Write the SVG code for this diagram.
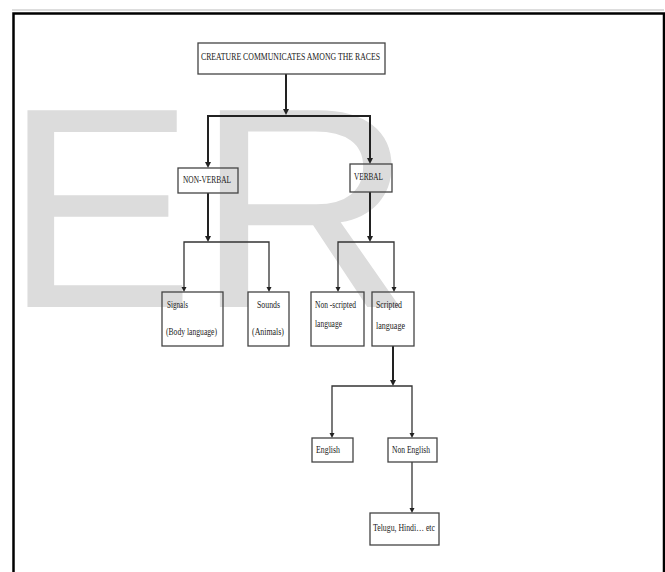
<svg xmlns="http://www.w3.org/2000/svg" width="665" height="572" viewBox="0 0 665 572">
<style>
.box{fill:none;stroke:#444;stroke-width:1.3}
.t{font-family:"Liberation Serif","Times New Roman",serif;font-size:11px;fill:#222}
.c{fill:none;stroke:#333;stroke-width:1.3}
.cb{fill:none;stroke:#222;stroke-width:2}
.wm{font-family:"Liberation Sans",Arial,sans-serif;font-size:286px;fill:#dcdcdc}
</style>
<rect width="665" height="572" fill="#fff"/>
<text class="wm" x="4" y="307">E</text>
<text class="wm" transform="translate(195,307) scale(1.06,1)">R</text>
<g id="frame">
<line x1="12" y1="10" x2="664" y2="10" stroke="#bbb" stroke-width="1"/>
<path d="M13.5,572 V13.5 H664 V572" fill="none" stroke="#000" stroke-width="2.5"/>
</g>
<g id="connectors">
<path class="cb" d="M286,74 V112"/>
<path d="M283,109 L289,109 L286,115 Z" fill="#222"/>
<path class="cb" d="M208,166 V116 H370 V162"/>
<path d="M205,162 L211,162 L208,168 Z" fill="#222"/>
<path d="M367,158 L373,158 L370,164 Z" fill="#222"/>
<path class="cb" d="M208,193 V240"/>
<path d="M205,236 L211,236 L208,242 Z" fill="#222"/>
<path class="c" d="M184,290 V242 H269 V290"/>
<path d="M181.5,287 L186.5,287 L184,292 Z" fill="#222"/>
<path d="M266.5,287 L271.5,287 L269,292 Z" fill="#222"/>
<path class="cb" d="M370,192 V240"/>
<path d="M367,236 L373,236 L370,242 Z" fill="#222"/>
<path class="c" d="M338,290 V242 H394 V290"/>
<path d="M335.5,287 L340.5,287 L338,292 Z" fill="#222"/>
<path d="M391.5,287 L396.5,287 L394,292 Z" fill="#222"/>
<path class="cb" d="M393,346 V384"/>
<path d="M390,380 L396,380 L393,386 Z" fill="#222"/>
<path class="c" d="M332,436 V386 H412 V436"/>
<path d="M329.5,433 L334.5,433 L332,438 Z" fill="#222"/>
<path d="M409.5,433 L414.5,433 L412,438 Z" fill="#222"/>
<path class="c" d="M412,462 V511"/>
<path d="M409.5,508 L414.5,508 L412,513 Z" fill="#222"/>
</g>
<g id="root">
<rect class="box" x="198" y="43" width="187" height="31"/>
<text class="t" x="201" y="60" textLength="179" lengthAdjust="spacingAndGlyphs">CREATURE COMMUNICATES AMONG THE RACES</text>
</g>
<g id="nonverbal">
<rect class="box" x="178" y="168" width="60" height="25"/>
<text class="t" x="183" y="183" textLength="48" lengthAdjust="spacingAndGlyphs">NON-VERBAL</text>
</g>
<g id="verbal">
<rect class="box" x="350" y="164" width="42" height="28"/>
<text class="t" x="354" y="180" textLength="29" lengthAdjust="spacingAndGlyphs">VERBAL</text>
</g>
<g id="signals">
<rect class="box" x="162" y="292" width="61" height="54"/>
<text class="t" x="167" y="308" textLength="21" lengthAdjust="spacingAndGlyphs">Signals</text>
<text class="t" x="166" y="335" textLength="51" lengthAdjust="spacingAndGlyphs">(Body language)</text>
</g>
<g id="sounds">
<rect class="box" x="248" y="292" width="41" height="54"/>
<text class="t" x="257" y="308" textLength="23" lengthAdjust="spacingAndGlyphs">Sounds</text>
<text class="t" x="252" y="335" textLength="32" lengthAdjust="spacingAndGlyphs">(Animals)</text>
</g>
<g id="nonscripted">
<rect class="box" x="311" y="292" width="53" height="54"/>
<text class="t" x="315" y="308" textLength="41" lengthAdjust="spacingAndGlyphs">Non -scripted</text>
<text class="t" x="315" y="327" textLength="27" lengthAdjust="spacingAndGlyphs">language</text>
</g>
<g id="scripted">
<rect class="box" x="372" y="292" width="42" height="54"/>
<text class="t" x="376" y="308" textLength="26" lengthAdjust="spacingAndGlyphs">Scripted</text>
<text class="t" x="376" y="329" textLength="29" lengthAdjust="spacingAndGlyphs">language</text>
</g>
<g id="english">
<rect class="box" x="312" y="438" width="41" height="24"/>
<text class="t" x="316" y="453" textLength="24" lengthAdjust="spacingAndGlyphs">English</text>
</g>
<g id="nonenglish">
<rect class="box" x="388" y="438" width="49" height="24"/>
<text class="t" x="392" y="453" textLength="38" lengthAdjust="spacingAndGlyphs">Non English</text>
</g>
<g id="telugu">
<rect class="box" x="370" y="513" width="69" height="32"/>
<text class="t" x="373" y="531" textLength="62" lengthAdjust="spacingAndGlyphs">Telugu, Hindi… etc</text>
</g>
</svg>
